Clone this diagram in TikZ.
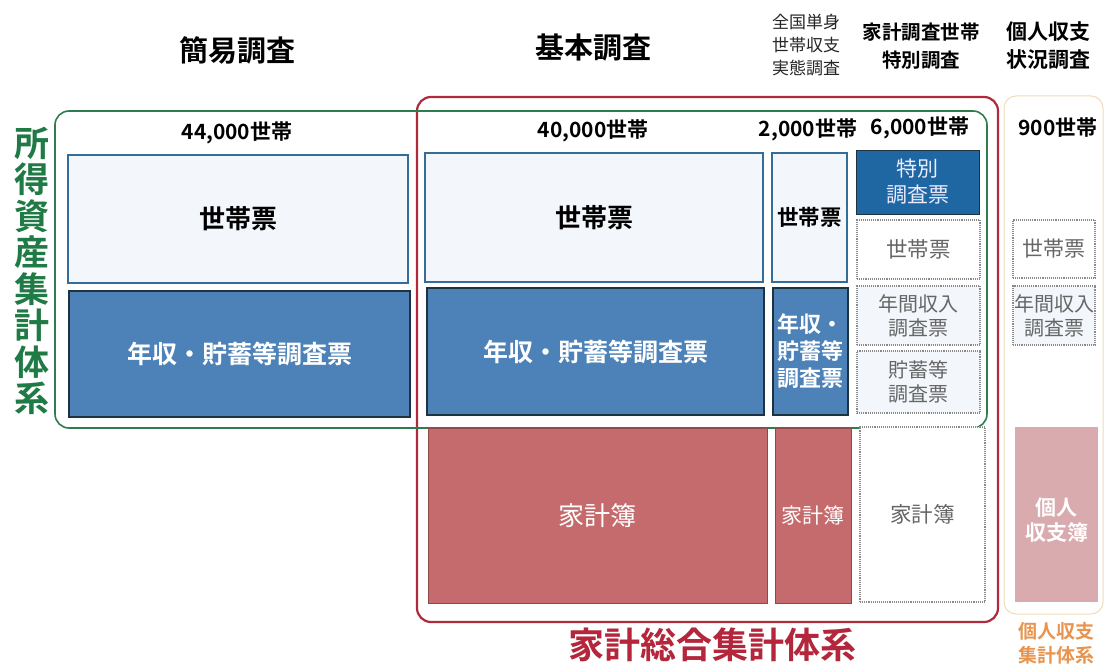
\documentclass[tikz,border=0pt]{standalone}
\usepackage{fontspec}
\setmainfont{Noto Sans CJK JP}
\newfontfamily\jpb{Noto Sans CJK JP Bold}
\usetikzlibrary{positioning}
\definecolor{gframe}{HTML}{2E7D4F}
\definecolor{rframe}{HTML}{B02A3E}
\definecolor{yframe}{HTML}{EEDDB8}
\definecolor{bfill}{HTML}{4D82B8}
\definecolor{bdark}{HTML}{1F67A3}
\definecolor{bline}{HTML}{1E3340}
\definecolor{lfill}{HTML}{F3F7FC}
\definecolor{lline}{HTML}{346E98}
\definecolor{rfill}{HTML}{C66B6D}
\definecolor{rline}{HTML}{8E4A4A}
\definecolor{pfill}{HTML}{D9AAAE}
\definecolor{dotline}{HTML}{8A8A8A}
\definecolor{dottext}{HTML}{666666}
\definecolor{gtext}{HTML}{1F7A45}
\definecolor{rtext}{HTML}{B3263C}
\definecolor{otext}{HTML}{E8944E}
\newcommand{\fs}[1]{\fontsize{#1}{#1}\selectfont}
\tikzset{
  cell/.style={inner sep=0pt, align=center},
  lightbox/.style={cell, draw=lline, line width=1.1pt, fill=lfill, text=black},
  bluebox/.style={cell, draw=bline, line width=1.3pt, fill=bfill, text=white},
  darkbox/.style={cell, draw=bline, line width=1pt, fill=bdark, text=white!92!blue},
  redbox/.style={cell, draw=rline, line width=0.8pt, fill=rfill, text=white},
  pinkbox/.style={cell, draw=none, fill=pfill, text=white},
  dotbox/.style={cell, draw=dotline, densely dotted, line width=1.1pt, text=dottext},
  head/.style={inner sep=0pt, align=center, font=\jpb},
  count/.style={inner sep=0pt, font=\jpb\fs{21}}
}
\begin{document}
\begin{tikzpicture}[x=1pt,y=-1pt]
\useasboundingbox (0,0) rectangle (1105,666);
\fill[white] (0,0) rectangle (1105,666);

% frames
\draw[yframe, line width=1pt, rounded corners=12pt] (1004,96) rectangle (1103,614);
\draw[rframe, line width=2.2pt, rounded corners=14pt] (417,97) rectangle (998,622);
\draw[gframe, line width=1.6pt, rounded corners=14pt] (55,111) rectangle (987,428);

% headers
\node[head, font=\jpb\fs{29}] (h1) at (237,50) {簡易調査};
\node[head, font=\jpb\fs{29}] (h2) at (593,48) {基本調査};
\node[inner sep=0pt, align=center, font=\fs{17}, text=black!85] (h3) at (806,45) {全国単身\\[6pt]世帯収支\\[6pt]実態調査};
\node[head, font=\jpb\fs{19.5}] (h4) at (921,46) {家計調査世帯\\[9pt]特別調査};
\node[head, font=\jpb\fs{21}] (h5) at (1048,46) {個人収支\\[7pt]状況調査};

% counts
\node[count] (c1) at (237,133) {44,000世帯};
\node[count] (c2) at (593,131) {40,000世帯};
\node[count] (c3) at (808,130) {2,000世帯};
\node[count] (c4) at (920,128) {6,000世帯};
\node[count] (c5) at (1058,128) {900世帯};

% 簡易調査
\node[lightbox, minimum width=340pt, minimum height=128pt, font=\jpb\fs{26}] (shh) at (238,219) {世帯票};
\node[bluebox, minimum width=341pt, minimum height=126pt, font=\jpb\fs{25}] (sinc) at (239.5,354) {年収・貯蓄等調査票};

% 基本調査
\node[lightbox, minimum width=338pt, minimum height=129pt, font=\jpb\fs{26}] (bhh) at (594,217.5) {世帯票};
\node[bluebox, minimum width=337pt, minimum height=127pt, font=\jpb\fs{25}] (binc) at (595.5,351.5) {年収・貯蓄等調査票};
\node[redbox, minimum width=339pt, minimum height=175pt, font=\fs{26}] (bkb) at (597.5,515.5) {家計簿};

% 全国単身
\node[lightbox, minimum width=75pt, minimum height=129pt, font=\jpb\fs{21.5}] (thh) at (809.5,217.5) {世帯票};
\node[bluebox, minimum width=75pt, minimum height=127pt, font=\jpb\fs{22}] (tinc) at (810.5,351.5) {年収・\\[5pt]貯蓄等\\[5pt]調査票};
\node[redbox, minimum width=76pt, minimum height=175pt, font=\fs{21}] (tkb) at (813,515.5) {家計簿};

% 特別調査
\node[darkbox, minimum width=123pt, minimum height=64pt, font=\fs{21}] (spspec) at (917.5,182) {特別\\[5pt]調査票};
\node[dotbox, fill=white, minimum width=123pt, minimum height=59pt, font=\fs{21.5}] (sphh) at (918.5,249.5) {世帯票};
\node[dotbox, fill=lfill, minimum width=123pt, minimum height=59pt, font=\fs{20}] (spann) at (918.5,315.5) {年間収入\\[4pt]調査票};
\node[dotbox, fill=lfill, minimum width=123pt, minimum height=62pt, font=\fs{20}] (spsav) at (918.5,382) {貯蓄等\\[4pt]調査票};
\node[dotbox, fill=white, minimum width=125pt, minimum height=175pt, font=\fs{21.5}] (spkb) at (922.5,514.5) {家計簿};

% 個人収支
\node[dotbox, fill=white, minimum width=82pt, minimum height=58pt, font=\fs{21}] (phh) at (1054,249) {世帯票};
\node[dotbox, fill=lfill, minimum width=82pt, minimum height=59pt, font=\fs{20}] (pann) at (1054,315.5) {年間収入\\[4pt]調査票};
\node[pinkbox, minimum width=83pt, minimum height=175pt] (pkb) at (1056.5,514.5) {};
\node[inner sep=0pt, align=center, text=white, font=\jpb\fs{21}] (pkbt) at (1056.5,520) {個人\\[4pt]収支簿};

% system labels
\node[inner sep=0pt, align=center, font=\jpb\fs{35}, text=gtext] (gl) at (32,271) {所\\[1.5pt]得\\[1.5pt]資\\[1.5pt]産\\[1.5pt]集\\[1.5pt]計\\[1.5pt]体\\[1.5pt]系};
\node[inner sep=0pt, font=\jpb\fs{36}, text=rtext] (rl) at (712,645) {家計総合集計体系};
\node[inner sep=0pt, align=center, font=\jpb\fs{19}, text=otext] (ol) at (1056,643) {個人収支\\[5pt]集計体系};
\end{tikzpicture}
\end{document}
